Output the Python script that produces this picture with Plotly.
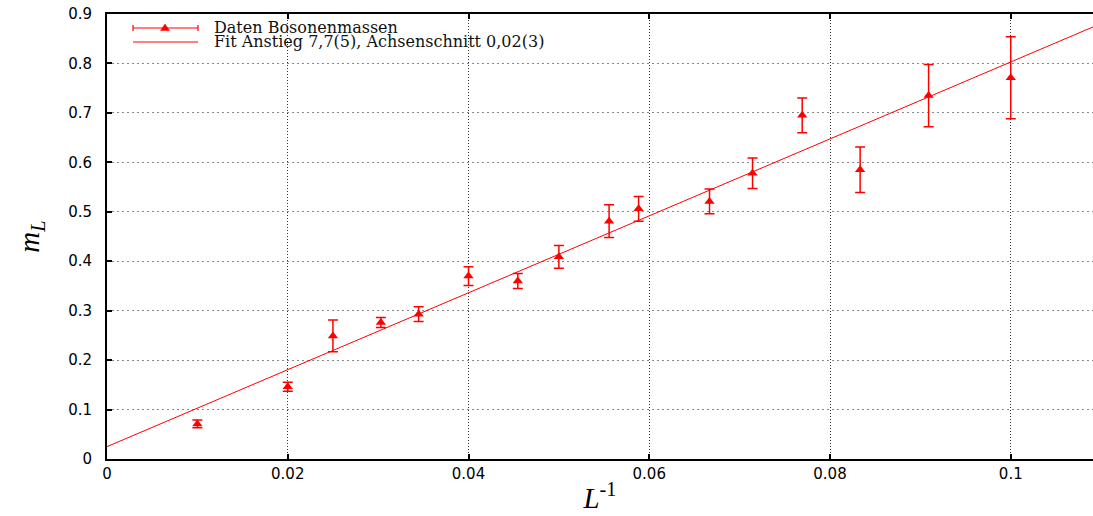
import numpy as np
import plotly.graph_objects as go

# Lattice sizes L and measured boson masses m_L with their errors
L_sizes = [100, 50, 40, 33, 29, 25, 22, 20, 18, 17, 15, 14, 13, 12, 11, 10]
m_L = [0.071, 0.146, 0.249, 0.276, 0.293, 0.370, 0.360, 0.409,
       0.481, 0.506, 0.521, 0.578, 0.695, 0.585, 0.735, 0.771]
m_err = [0.008, 0.009, 0.032, 0.010, 0.015, 0.019, 0.015, 0.023,
         0.033, 0.025, 0.025, 0.031, 0.035, 0.046, 0.063, 0.083]

# Linear fit m_L = slope * (1/L) + intercept
fit_slope = 7.78
fit_intercept = 0.025

x_ticks = [0, 0.02, 0.04, 0.06, 0.08, 0.1]
x_tick_text = ["0", "0.02", "0.04", "0.06", "0.08", "0.1"]
y_ticks = [0, 0.1, 0.2, 0.3, 0.4, 0.5, 0.6, 0.7, 0.8, 0.9]
y_tick_text = ["0", "0.1", "0.2", "0.3", "0.4", "0.5", "0.6", "0.7", "0.8", "0.9"]

X_MAX = 0.1091
inv_L = [1.0 / L for L in L_sizes]
x_fit = np.array([0.0, X_MAX])
y_fit = fit_slope * x_fit + fit_intercept

RED = "#ff0000"
serif = "DejaVu Serif"
sans = "DejaVu Sans"

fig = go.Figure()
fig.add_trace(go.Scatter(
    x=x_fit, y=y_fit, mode="lines",
    line=dict(color=RED, width=1),
    name="Fit Anstieg 7,7(5), Achsenschnitt 0,02(3)",
    showlegend=False, hoverinfo="skip",
))
fig.add_trace(go.Scatter(
    x=inv_L, y=m_L, mode="markers",
    marker=dict(symbol="triangle-up", size=9, color=RED, line=dict(width=0)),
    error_y=dict(type="data", array=m_err, visible=True,
                 color=RED, thickness=1.5, width=5),
    name="Daten Bosonenmassen", showlegend=False,
))

# Hand-drawn key in the upper left corner of the plot area
W0, W1 = 107, 1093
H0, H1 = 14, 459


def px(x):
    return (x - W0) / (W1 - W0)


def py(y):
    return (H1 - y) / (H1 - H0)


shapes = []
row1, row2 = 28, 42
shapes.append(dict(type="line", xref="paper", yref="paper",
                   x0=px(133), x1=px(198), y0=py(row1), y1=py(row1),
                   line=dict(color=RED, width=1.2)))
for cx in (133, 198):
    shapes.append(dict(type="line", xref="paper", yref="paper",
                       x0=px(cx), x1=px(cx), y0=py(row1 - 3), y1=py(row1 + 3),
                       line=dict(color=RED, width=1.2)))
shapes.append(dict(type="path", xref="paper", yref="paper",
                   path=f"M {px(160.5)} {py(row1 + 2.5)} L {px(169.5)} {py(row1 + 2.5)} "
                        f"L {px(165)} {py(row1 - 4)} Z",
                   fillcolor=RED, line=dict(color=RED, width=0.5)))
shapes.append(dict(type="line", xref="paper", yref="paper",
                   x0=px(133), x1=px(198), y0=py(row2), y1=py(row2),
                   line=dict(color=RED, width=1)))

annotations = [
    dict(text="Daten Bosonenmassen", xref="paper", yref="paper",
         x=px(212), y=py(row1), xanchor="left", yanchor="middle",
         showarrow=False, font=dict(family=serif, size=16, color="#111")),
    dict(text="Fit Anstieg 7,7(5), Achsenschnitt 0,02(3)", xref="paper", yref="paper",
         x=px(212), y=py(row2), xanchor="left", yanchor="middle",
         showarrow=False, font=dict(family=serif, size=16, color="#111")),
]

fig.update_layout(
    width=1093, height=516,
    margin=dict(l=107, r=0, t=14, b=57),
    paper_bgcolor="white", plot_bgcolor="white",
    showlegend=False,
    shapes=shapes, annotations=annotations,
    xaxis=dict(
        range=[0, X_MAX], tickvals=x_ticks, ticktext=x_tick_text,
        showline=True, linecolor="black", linewidth=2, mirror="ticks",
        ticks="inside", ticklen=5, tickcolor="black", tickwidth=1.5,
        showgrid=True, gridcolor="#333", griddash="1px,2px", gridwidth=1,
        zeroline=False,
        tickfont=dict(family=sans, size=15, color="black"),
        title=dict(text="<i>L</i><sup>-1</sup>", standoff=6,
                   font=dict(family="Liberation Serif", size=29, color="black")),
    ),
    yaxis=dict(
        range=[0, 0.9], tickvals=y_ticks, ticktext=y_tick_text,
        showline=True, linecolor="black", linewidth=2, mirror=False,
        ticks="inside", ticklen=5, tickcolor="black", tickwidth=1.5,
        showgrid=True, gridcolor="#888", griddash="2px,3px", gridwidth=1,
        zeroline=False, ticklabelstandoff=10,
        tickfont=dict(family=sans, size=15, color="black"),
        title=dict(text="<i>m</i><sub><i>L</i></sub>", standoff=20,
                   font=dict(family="Liberation Serif", size=29, color="black")),
    ),
)

fig.write_html("out.html")
